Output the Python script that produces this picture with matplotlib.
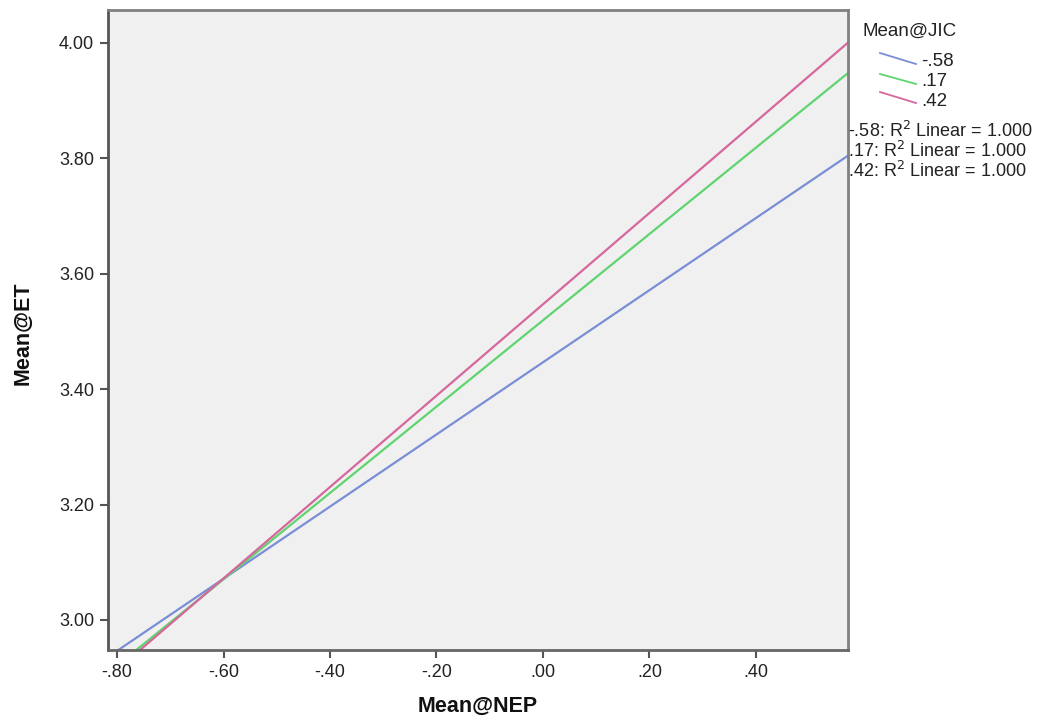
import matplotlib
matplotlib.use("Agg")
import matplotlib.pyplot as plt
from matplotlib.lines import Line2D

plt.rcParams['font.family'] = ['Liberation Sans', 'DejaVu Sans']

# Data
groups = ["-.58", ".17", ".42"]
colors = ["#7a8ed6", "#5fd46f", "#d6679c"]
nep_x = [-0.82, 0.58]
et_lo = [2.934, 2.906, 2.898]   # ET at NEP = -0.82
et_hi = [3.809, 3.953, 4.006]   # ET at NEP = 0.58
r2 = ["1.000", "1.000", "1.000"]
xticks = [-0.80, -0.60, -0.40, -0.20, 0.00, 0.20, 0.40]
xticklabels = ["-.80", "-.60", "-.40", "-.20", ".00", ".20", ".40"]
yticks = [3.00, 3.20, 3.40, 3.60, 3.80, 4.00]
yticklabels = ["3.00", "3.20", "3.40", "3.60", "3.80", "4.00"]

W, H = 1055, 721
fig = plt.figure(figsize=(W / 100, H / 100), dpi=100)
ax = fig.add_axes([108 / W, 1 - 650 / H, (848 - 108) / W, (650 - 10) / H])
ax.set_facecolor("#f0f0f0")

for g, c, lo, hi in zip(groups, colors, et_lo, et_hi):
    ax.plot(nep_x, [lo, hi], color=c, lw=1.6, solid_capstyle="butt")

ax.set_xlim(-0.817, 0.573)
ax.set_ylim(2.948, 4.057)
ax.set_xticks(xticks)
ax.set_xticklabels(xticklabels)
ax.set_yticks(yticks)
ax.set_yticklabels(yticklabels)
ax.tick_params(direction="out", length=6, width=1.5, color="#555555",
               labelsize=13, labelcolor="#222222", pad=4)
for s in ax.spines.values():
    s.set_color("#808080")
    s.set_linewidth(2)
ax.spines["left"].set_color("#555555")
ax.spines["bottom"].set_color("#666666")

fig.text(478 / W, 1 - 706 / H, "Mean@NEP", fontsize=15.5, fontweight="bold",
         ha="center", va="center", color="#111111")
fig.text(23 / W, 1 - 333 / H, "Mean@ET", fontsize=15.5, fontweight="bold",
         ha="center", va="center", rotation=90, color="#111111")

# Legend (SPSS style with diagonal line samples)
fig.text(862 / W, 1 - 31 / H, "Mean@JIC", fontsize=13.5, color="#222222",
         va="center", ha="left")
leg_line_y = [(53, 64), (74, 84), (92, 103)]
leg_text_y = [62, 81, 101]
for g, c, (y0, y1), yt in zip(groups, colors, leg_line_y, leg_text_y):
    fig.add_artist(Line2D([880 / W, 916 / W], [1 - y0 / H, 1 - y1 / H],
                          color=c, lw=1.3, transform=fig.transFigure))
    fig.text(921 / W, 1 - yt / H, g, fontsize=13.5, color="#222222",
             va="center", ha="left")

r2_y = [131, 151, 171]
for g, v, yy in zip(groups, r2, r2_y):
    fig.text(848 / W, 1 - yy / H, f"{g}: R$^2$ Linear = {v}", fontsize=13,
             color="#222222", va="center", ha="left")

fig.savefig("out.png", dpi=100)
